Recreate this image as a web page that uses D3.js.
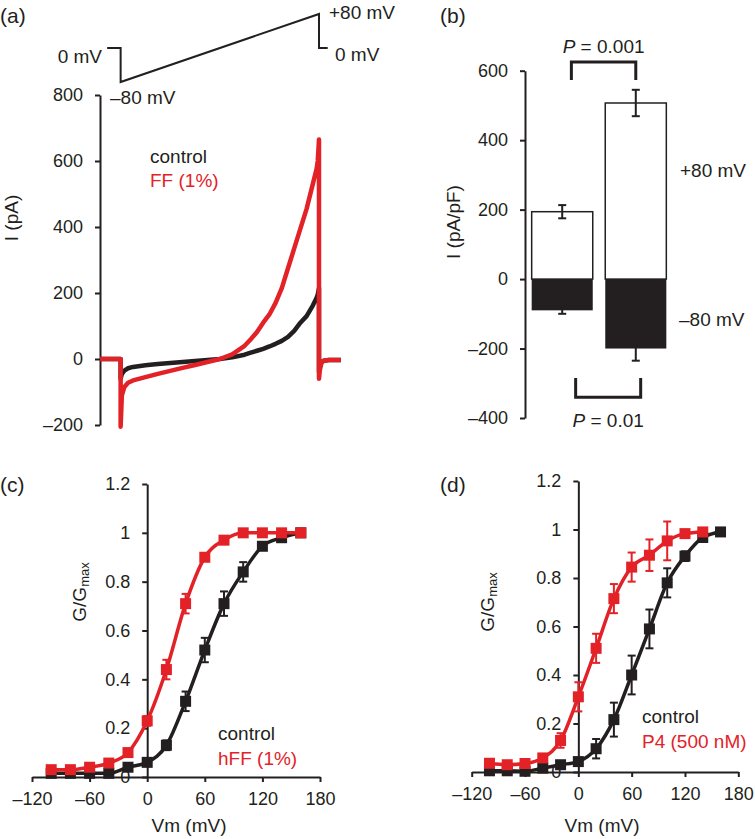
<!DOCTYPE html>
<html>
  <head>
    <style type="text/css">
        body { margin: 0; background: #fff; }
        svg text { font-family: "Liberation Sans", Arial, sans-serif; fill: #231f20; }
        .axis path, .axis line { stroke: #231f20; stroke-width: 2px; }
        .axis text { font-size: 18px; }
    </style>
  </head>
  <body>
    <svg width="755" height="839"></svg>
    <script src="https://d3js.org/d3.v7.min.js"></script>
    <script>

    var RED = "#e32228", INK = "#231f20";

    // (a) ramp protocol and current traces
    var protoT = [16, 50, 50, 550, 550, 572];
    var protoV = [0, 0, -80, 80, 0, 0];
    var holdT = [-2, 50];
    var rampV = [-80, -79, -77, -74, -70, -60, -50, -40, -30, -20, -10, 0, 10, 20, 25, 30, 35, 40, 45, 50, 55, 60, 65, 70, 75, 78, 79, 80];
    var ffI = [-205, -110, -85, -72, -65, -55, -45, -36, -27, -18, -9, 0, 14, 40, 60, 82, 110, 135, 170, 215, 275, 335, 395, 455, 530, 575, 600, 665];
    var controlI = [-60, -45, -35, -28, -24, -19, -15, -12, -9, -6, -3, 0, 5, 13, 19, 25, 31, 38, 46, 55, 67, 85, 110, 130, 162, 185, 195, 215];
    var postT = [550, 552, 556, 562, 575, 605];
    var ffPost = [-60, -35, -12, -5, -3, -3];
    var controlPost = [-40, -25, -10, -5, -3, -3];
    var aTicks = [-200, 0, 200, 400, 600, 800];

    // (b) current density at +80 / -80 mV
    var bCats = ["control", "FF"];
    var bPos = [194, 507];
    var bPosErr = [19, 38];
    var bNeg = [-90, -200];
    var bNegErr = [10, 35];
    var bTicks = [-400, -200, 0, 200, 400, 600];

    // (c), (d) G/Gmax vs Vm
    var vm = [-100, -80, -60, -40, -20, 0, 20, 40, 60, 80, 100, 120, 140, 160];
    var cControl = [0.015, 0.015, 0.015, 0.015, 0.04, 0.06, 0.13, 0.31, 0.52, 0.71, 0.84, 0.945, 0.98, 1.0];
    var cControlErr = [0, 0, 0, 0, 0.01, 0.01, 0.02, 0.04, 0.05, 0.05, 0.04, 0.015, 0.01, 0];
    var cHFF = [0.03, 0.03, 0.04, 0.057, 0.1, 0.23, 0.44, 0.71, 0.9, 0.97, 1.0, 1.0, 1.0, 1.0];
    var cHFFErr = [0, 0, 0, 0, 0.01, 0.02, 0.04, 0.04, 0.01, 0.01, 0, 0, 0, 0];
    var dControl = [0.005, 0.005, 0.003, 0.016, 0.03, 0.043, 0.096, 0.216, 0.40, 0.59, 0.78, 0.89, 0.967, 0.99];
    var dControlErr = [0, 0, 0, 0, 0.01, 0.01, 0.04, 0.07, 0.08, 0.08, 0.06, 0.02, 0.01, 0];
    var dP4 = [0.036, 0.03, 0.035, 0.058, 0.13, 0.31, 0.51, 0.715, 0.845, 0.894, 0.953, 0.983, 0.99, null];
    var dP4Err = [0, 0, 0, 0, 0.03, 0.06, 0.06, 0.06, 0.06, 0.065, 0.08, 0.01, 0, 0];
    var gTicks = [0, 0.2, 0.4, 0.6, 0.8, 1, 1.2];
    var vmTicks = [-120, -60, 0, 60, 120, 180];

    var svg = d3.select("svg");
    var dash = function(s) { return String(s).replace("-", "\u2013"); };

    function label(x, y, str, opts) {
        opts = opts || {};
        return svg.append("text")
            .attr("x", x).attr("y", y)
            .attr("font-size", opts.size || 19)
            .attr("text-anchor", opts.anchor || "start")
            .style("fill", opts.color || INK)
            .text(str);
    }

    // ---------- (a) ----------
    var xA = d3.scaleLinear().domain([-2, 608]).range([100, 342]);
    var yA = d3.scaleLinear().domain([-200, 800]).range([425, 95]);
    var yProto = d3.scaleLinear().domain([-80, 80]).range([82, 14]);
    var tOf = function(v) { return 50 + (v + 80) * 500 / 160; };

    svg.append("path")
        .datum(protoT.map(function(t, i) { return [t, protoV[i]]; }))
        .attr("fill", "none").attr("stroke", INK).attr("stroke-width", 2)
        .attr("d", d3.line().x(function(d) { return xA(d[0]); }).y(function(d) { return yProto(d[1]); }));

    svg.append("g").attr("class", "axis")
        .attr("transform", "translate(100,0)")
        .call(d3.axisLeft(yA).tickValues(aTicks).tickFormat(dash).tickSize(5).tickPadding(12).tickSizeOuter(0));

    function trace(I, post) {
        var pts = holdT.map(function(t) { return [t, 0]; });
        rampV.forEach(function(v, i) { pts.push([tOf(v), I[i]]); });
        postT.forEach(function(t, i) { pts.push([t, post[i]]); });
        return pts;
    }
    var traceLine = d3.line().x(function(d) { return xA(d[0]); }).y(function(d) { return yA(d[1]); });
    svg.append("path").datum(trace(controlI, controlPost))
        .attr("fill", "none").attr("stroke", INK).attr("stroke-width", 4.5)
        .attr("stroke-linejoin", "round").attr("d", traceLine);
    svg.append("path").datum(trace(ffI, ffPost))
        .attr("fill", "none").attr("stroke", RED).attr("stroke-width", 4.5)
        .attr("stroke-linejoin", "round").attr("d", traceLine);

    label(0, 23, "(a)", {size: 21});
    label(102, 63, "0 mV", {anchor: "end"});
    label(110, 104, "\u201380 mV");
    label(329, 19, "+80 mV");
    label(335, 61, "0 mV");
    label(150, 163, "control");
    label(150, 187, "FF (1%)", {color: RED});
    svg.append("text")
        .attr("transform", "translate(11,218) rotate(-90)")
        .attr("text-anchor", "middle").attr("dominant-baseline", "central")
        .attr("font-size", 19).text("I (pA)");

    // ---------- (b) ----------
    var xB = d3.scaleBand().domain(bCats).range([528, 670]).paddingInner(0.17).paddingOuter(0.05);
    var yB = d3.scaleLinear().domain([-400, 600]).range([418, 70.7]);

    svg.append("g").selectAll("rect.pos")
        .data(bCats).enter().append("rect")
        .attr("x", function(d) { return xB(d); })
        .attr("width", xB.bandwidth())
        .attr("y", function(d, i) { return yB(bPos[i]); })
        .attr("height", function(d, i) { return yB(0) - yB(bPos[i]); })
        .attr("fill", "#fff").attr("stroke", INK).attr("stroke-width", 1.5);
    svg.append("g").selectAll("rect.neg")
        .data(bCats).enter().append("rect")
        .attr("x", function(d) { return xB(d); })
        .attr("width", xB.bandwidth())
        .attr("y", yB(0))
        .attr("height", function(d, i) { return yB(bNeg[i]) - yB(0); })
        .attr("fill", INK);

    function errBar(g, x, y0, y1, color, cap) {
        g.append("line").attr("x1", x).attr("x2", x).attr("y1", y0).attr("y2", y1)
            .attr("stroke", color).attr("stroke-width", 2);
        [y0, y1].forEach(function(y) {
            g.append("line").attr("x1", x - cap).attr("x2", x + cap).attr("y1", y).attr("y2", y)
                .attr("stroke", color).attr("stroke-width", 2);
        });
    }
    var gErrB = svg.append("g");
    bCats.forEach(function(c, i) {
        var cx = xB(c) + xB.bandwidth() / 2;
        errBar(gErrB, cx, yB(bPos[i] + bPosErr[i]), yB(bPos[i] - bPosErr[i]), INK, 4);
        errBar(gErrB, cx, yB(bNeg[i] + bNegErr[i]), yB(bNeg[i] - bNegErr[i]), INK, 4);
    });

    svg.append("g").attr("class", "axis")
        .attr("transform", "translate(525,0)")
        .call(d3.axisLeft(yB).tickValues(bTicks).tickFormat(dash).tickSize(5).tickPadding(12).tickSizeOuter(0));

    // significance brackets
    var bL = xB(bCats[0]) + xB.bandwidth() * 0.65, bR = xB(bCats[1]) + xB.bandwidth() * 0.5;
    svg.append("path")
        .attr("d", "M" + bL + "," + yB(573) + "V" + yB(625) + "H" + bR + "V" + yB(573))
        .attr("fill", "none").attr("stroke", INK).attr("stroke-width", 3);
    var bL2 = xB(bCats[0]) + xB.bandwidth() * 0.72, bR2 = xB(bCats[1]) + xB.bandwidth() * 0.58;
    svg.append("path")
        .attr("d", "M" + bL2 + "," + yB(-285) + "V" + yB(-340) + "H" + bR2 + "V" + yB(-285))
        .attr("fill", "none").attr("stroke", INK).attr("stroke-width", 3);

    function pText(x, y, val) {
        var t = svg.append("text").attr("x", x).attr("y", y).attr("font-size", 19).attr("text-anchor", "middle");
        t.append("tspan").attr("font-style", "italic").text("P");
        t.append("tspan").text(" = " + val);
    }
    pText((bL + bR) / 2, 53, "0.001");
    pText((bL2 + bR2) / 2, 427, "0.01");

    label(440, 23, "(b)", {size: 21});
    label(680, 177, "+80 mV");
    label(679, 326, "\u201380 mV");
    svg.append("text")
        .attr("transform", "translate(453,222) rotate(-90)")
        .attr("text-anchor", "middle").attr("dominant-baseline", "central")
        .attr("font-size", 19).text("I (pA/pF)");

    // ---------- (c), (d) ----------
    function gPanel(opt) {
        var x = d3.scaleLinear().domain([-120, 180]).range(opt.xr);
        var y = d3.scaleLinear().domain([0, 1.2]).range(opt.yr);
        var g = svg.append("g");

        g.append("g").attr("class", "axis")
            .attr("transform", "translate(0," + opt.yr[0] + ")")
            .call(d3.axisBottom(x).tickValues(vmTicks).tickFormat(dash).tickSize(5).tickPadding(10).tickSizeOuter(0));
        g.append("g").attr("class", "axis")
            .attr("transform", "translate(" + x(0) + ",0)")
            .call(d3.axisLeft(y).tickValues(gTicks).tickFormat(function(d) { return d3.format("~g")(d); })
                .tickSize(5).tickPadding(12).tickSizeOuter(0));

        var line = d3.line()
            .defined(function(d) { return d[1] != null; })
            .x(function(d) { return x(d[0]); }).y(function(d) { return y(d[1]); })
            .curve(d3.curveMonotoneX);

        opt.series.forEach(function(s) {
            var pts = vm.map(function(v, i) { return [v, s.vals[i], s.err[i]]; })
                .filter(function(d) { return d[1] != null; });
            g.append("path").datum(pts)
                .attr("fill", "none").attr("stroke", s.color).attr("stroke-width", 3.5).attr("d", line);
            g.append("g").selectAll("rect").data(pts).enter().append("rect")
                .attr("x", function(d) { return x(d[0]) - 5.5; })
                .attr("y", function(d) { return y(d[1]) - 5.5; })
                .attr("width", 11).attr("height", 11).attr("fill", s.color);
            var ge = g.append("g");
            pts.forEach(function(d) {
                if (d[2] > 0) errBar(ge, x(d[0]), y(d[1] + d[2]), y(d[1] - d[2]), s.color, 4);
            });
        });

        label(opt.panel[0], opt.panel[1], opt.panelText, {size: 21});
        label(opt.leg[0], opt.leg[1], "control");
        label(opt.leg[0], opt.leg[1] + 25, opt.legText, {color: RED});
        label(opt.xlab[0], opt.xlab[1], "Vm (mV)", {anchor: "middle"});
        var yl = svg.append("text")
            .attr("transform", "translate(" + opt.ylab[0] + "," + opt.ylab[1] + ") rotate(-90)")
            .attr("text-anchor", "middle").attr("dominant-baseline", "central")
            .attr("font-size", 19);
        yl.append("tspan").text("G/G");
        yl.append("tspan").attr("font-size", 13).attr("dy", 5).text("max");
    }

    gPanel({
        xr: [32, 320], yr: [777, 484],
        series: [
            {vals: cControl, err: cControlErr, color: INK},
            {vals: cHFF, err: cHFFErr, color: RED}
        ],
        panel: [0, 492], panelText: "(c)",
        leg: [218, 740], legText: "hFF (1%)",
        xlab: [189, 832], ylab: [79, 592]
    });

    gPanel({
        xr: [471.7, 738.3], yr: [772, 481],
        series: [
            {vals: dControl, err: dControlErr, color: INK},
            {vals: dP4, err: dP4Err, color: RED}
        ],
        panel: [440, 492], panelText: "(d)",
        leg: [642, 723], legText: "P4 (500 nM)",
        xlab: [602, 832], ylab: [487, 602]
    });

    </script>
  </body>
</html>
